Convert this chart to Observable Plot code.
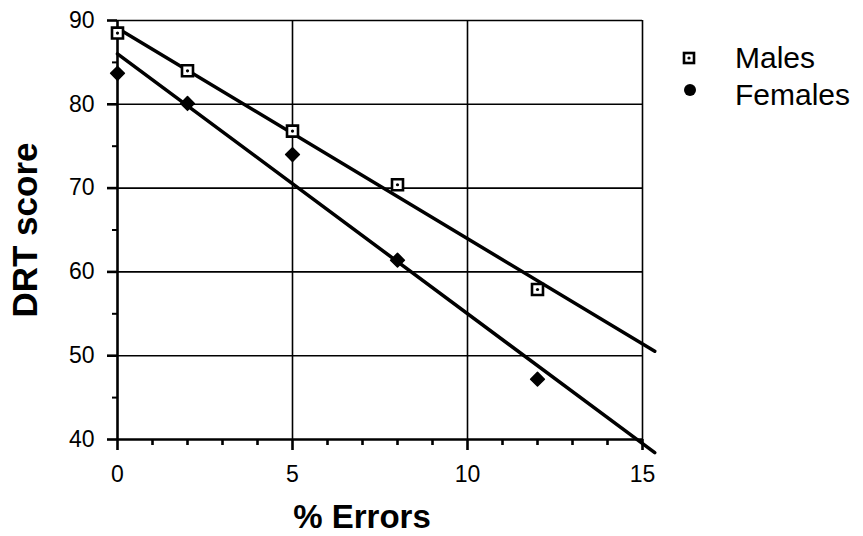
<!DOCTYPE html>
<html>
<head>
<meta charset="utf-8">
<script src="https://cdn.jsdelivr.net/npm/d3@7"></script>
<script src="https://cdn.jsdelivr.net/npm/@observablehq/plot@0.6"></script>
<style>
  html, body { margin: 0; padding: 0; background: white; }
</style>
</head>
<body>
<div id="wrap"></div>
<script>
const errors = [0, 2, 5, 8, 12];
const males = [88.5, 84.0, 76.8, 70.4, 57.9];
const females = [83.7, 80.1, 74.0, 61.4, 47.2];
const fitExtent = [0, 15.35];
const xTicks = [0, 5, 10, 15];
const xMinor = [1, 2, 3, 4, 6, 7, 8, 9, 11, 12, 13, 14];
const yTicks = [40, 50, 60, 70, 80, 90];
const yMinor = [45, 55, 65, 75, 85];
const seriesNames = ["Males", "Females"];

function fit(xs, ys) {
  const mx = d3.mean(xs), my = d3.mean(ys);
  const sxy = d3.sum(xs, (x, i) => (x - mx) * (ys[i] - my));
  const sxx = d3.sum(xs, x => (x - mx) ** 2);
  const b = sxy / sxx, a = my - b * mx;
  return fitExtent.map(x => ({x, y: a + b * x}));
}

const maleData = errors.map((x, i) => ({x, y: males[i]}));
const femaleData = errors.map((x, i) => ({x, y: females[i]}));

const chart = Plot.plot({
  width: 863, height: 536,
  marginLeft: 117, marginRight: 221, marginTop: 20, marginBottom: 97,
  x: {domain: [0, 15]},
  y: {domain: [40, 90]},
  style: {fontFamily: "Liberation Sans, Arial, sans-serif", fontSize: "23px", color: "black", background: "white"},
  marks: [
    Plot.gridX(xTicks.slice(1), {stroke: "black", strokeOpacity: 1, strokeWidth: 1.6}),
    Plot.gridY(yTicks.slice(1), {stroke: "black", strokeOpacity: 1, strokeWidth: 1.6}),
    Plot.ruleX([0], {strokeWidth: 2.6}),
    Plot.ruleY([40], {strokeWidth: 2.6}),
    Plot.axisX(xTicks, {tickSize: 11, tickPadding: 15, strokeWidth: 2.6, label: null, fontSize: 23}),
    Plot.axisX(xMinor, {tickSize: 6, strokeWidth: 2.6, text: null, label: null}),
    Plot.axisY(yTicks, {tickSize: 10, tickPadding: 13, strokeWidth: 2.6, label: null, fontSize: 23}),
    Plot.axisY(yMinor, {tickSize: 5, strokeWidth: 2, text: null, label: null}),
    Plot.line(fit(errors, males), {x: "x", y: "y", stroke: "black", strokeWidth: 3.5, clip: false}),
    Plot.line(fit(errors, females), {x: "x", y: "y", stroke: "black", strokeWidth: 3.5, clip: false}),
    Plot.dot(maleData, {x: "x", y: "y", symbol: "square", r: 6.2, stroke: "black", strokeWidth: 2.6, fill: "white"}),
    Plot.dot(maleData, {x: "x", y: "y", r: 1.6, fill: "black"}),
    Plot.dot(femaleData, {x: "x", y: "y", symbol: "diamond2", r: 6.2, fill: "black", stroke: "black", strokeWidth: 1.5, strokeLinejoin: "round"}),
    Plot.text(["% Errors"], {frameAnchor: "bottom", textAnchor: "middle", lineAnchor: "middle", dx: -18, dy: 78, fontWeight: "bold", fontSize: 33, letterSpacing: 1}),
    Plot.text(["DRT score"], {frameAnchor: "left", textAnchor: "middle", lineAnchor: "middle", dx: -92, rotate: -90, fontWeight: "bold", fontSize: 35, letterSpacing: 2})
  ]
});
document.getElementById("wrap").appendChild(chart);

// legend drawn into the same SVG
const svg = d3.select(chart);
const leg = svg.append("g").attr("font-family", "Liberation Sans, Arial, sans-serif").attr("font-size", 30).attr("text-anchor", "start");
leg.append("rect").attr("x", 684).attr("y", 53).attr("width", 10).attr("height", 10)
  .attr("fill", "white").attr("stroke", "black").attr("stroke-width", 2.6);
leg.append("circle").attr("cx", 689).attr("cy", 58).attr("r", 1.6).attr("fill", "black");
leg.append("circle").attr("cx", 690).attr("cy", 90).attr("r", 6).attr("fill", "black");
leg.append("text").attr("x", 735).attr("y", 68).text(seriesNames[0]);
leg.append("text").attr("x", 735).attr("y", 105).text(seriesNames[1]);
</script>
</body>
</html>
